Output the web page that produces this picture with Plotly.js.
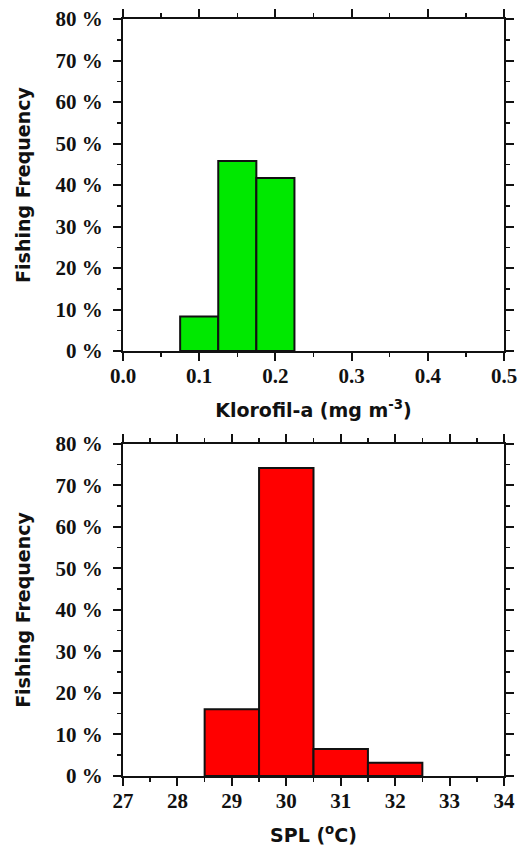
<!DOCTYPE html>
<html>
<head>
<meta charset="utf-8">
<script src="https://cdn.plot.ly/plotly-3.0.1.min.js"></script>
<style>html,body{margin:0;padding:0;background:#fff;}#chart{width:530px;height:852px;}</style>
</head>
<body>
<div id="chart"></div>
<script>
// Chlorophyll-a histogram (bin centres, bin width, frequency %)
const chlBinCenters = [0.1, 0.15, 0.2];
const chlBinWidth = 0.05;
const chlFreq = [8.3, 45.8, 41.7];

// Sea-surface temperature histogram
const sstBinCenters = [29, 30, 31, 32];
const sstBinWidth = 1;
const sstFreq = [16.1, 74.2, 6.5, 3.2];

const chlTitle = 'Klorofil-a (mg m<sup>-3</sup>)';
const sstTitle = 'SPL (<sup>o</sup>C)';
const yTitle = 'Fishing Frequency';

const tickFont = {family: '"Times New Roman", "Liberation Serif", serif', size: 21, color: '#111', weight: 700};
const titleFont = {family: '"DejaVu Sans", sans-serif', size: 19, color: '#111', weight: 700};

const traces = [
  {type: 'bar', x: chlBinCenters, y: chlFreq, width: chlBinWidth,
   marker: {color: '#00e800', line: {color: '#111', width: 2}},
   xaxis: 'x', yaxis: 'y', hoverinfo: 'skip'},
  {type: 'bar', x: sstBinCenters, y: sstFreq, width: sstBinWidth,
   marker: {color: '#ff0000', line: {color: '#111', width: 2}},
   xaxis: 'x2', yaxis: 'y2', hoverinfo: 'skip'}
];

function xAxis(range, dtick, minor, fmt, title, anchor, standoff) {
  return {
    range: range, dtick: dtick, tick0: range[0], tickformat: fmt,
    showline: true, linecolor: '#111', linewidth: 2, mirror: 'ticks',
    ticks: 'outside', ticklen: 8, tickwidth: 2, tickcolor: '#111',
    minor: {dtick: minor, ticks: 'outside', ticklen: 4, tickwidth: 1.5, tickcolor: '#111'},
    showgrid: false, zeroline: false, fixedrange: true,
    tickfont: tickFont, ticklabelstandoff: -3,
    title: {text: title, font: titleFont, standoff: standoff},
    anchor: anchor, automargin: false
  };
}
function yAxis(domain, anchor) {
  return {
    domain: domain, range: [0, 80], dtick: 10, tick0: 0, ticksuffix: ' %',
    showline: true, linecolor: '#111', linewidth: 2, mirror: 'ticks',
    ticks: 'outside', ticklen: 8, tickwidth: 2, tickcolor: '#111',
    minor: {dtick: 5, ticks: 'outside', ticklen: 4, tickwidth: 1.5, tickcolor: '#111'},
    showgrid: false, zeroline: false, fixedrange: true,
    tickfont: tickFont, ticklabelstandoff: 6,
    title: {text: yTitle, font: titleFont, standoff: 20},
    anchor: anchor, automargin: false
  };
}

const layout = {
  width: 530, height: 852,
  margin: {l: 123, r: 26, t: 19, b: 76},
  paper_bgcolor: '#fff', plot_bgcolor: '#fff',
  showlegend: false, bargap: 0,
  xaxis: xAxis([0, 0.5], 0.1, 0.05, '.1f', chlTitle, 'y', 16),
  yaxis: yAxis([0.5614, 1], 'x'),
  xaxis2: xAxis([27, 34], 1, 0.5, 'd', sstTitle, 'y2', 16),
  yaxis2: yAxis([0, 0.4386], 'x2')
};

Plotly.newPlot('chart', traces, layout, {displayModeBar: false, staticPlot: true});
</script>
</body>
</html>
